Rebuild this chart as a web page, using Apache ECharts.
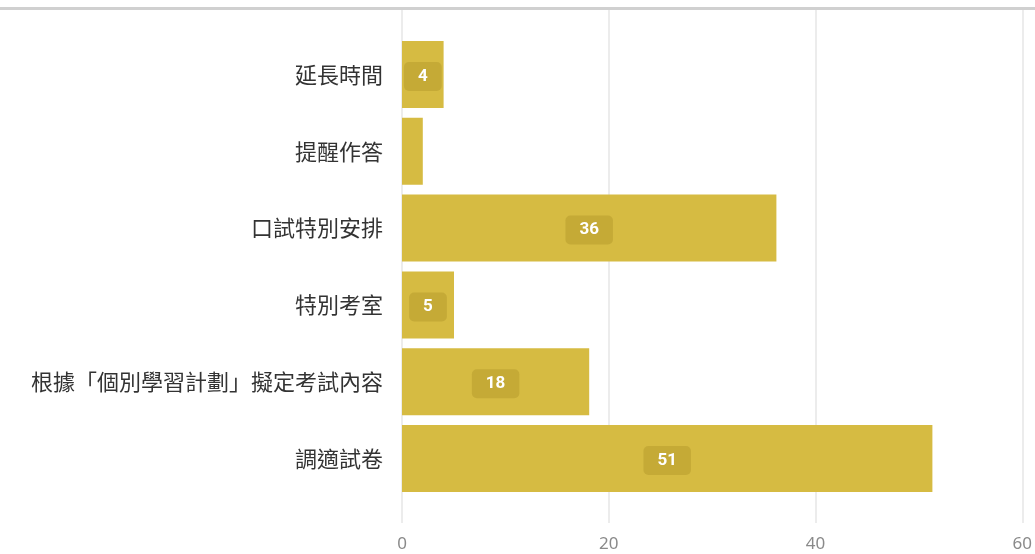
<!DOCTYPE html>
<html><head><meta charset="utf-8">
<script src="https://cdn.jsdelivr.net/npm/echarts@6/dist/echarts.min.js"></script>
<style>html,body{margin:0;padding:0;background:#fff}#c{width:1035px;height:554px}</style>
</head><body><div id="c"></div>
<script>
const categories = ['延長時間','提醒作答','口試特別安排','特別考室','根據「個別學習計劃」擬定考試內容','調適試卷'];
const values = [4, 2, 36, 5, 18, 51];
const xTicks = [0, 20, 40, 60];

const chart = echarts.init(document.getElementById('c'));
chart.setOption({
  animation: false,
  graphic: [{type:'rect', shape:{x:0,y:7,width:1035,height:3}, style:{fill:'#d0d0d0'}, z:10}],
  grid: [
    {left: 402, right: 9, top: 36, bottom: 57},
    {left: 402, right: 9, top: 10, bottom: 31}
  ],
  xAxis: [
    {gridIndex:0, type:'value', min:xTicks[0], max:xTicks[xTicks.length-1], interval:20,
     axisLabel:{show:false}, splitLine:{show:false}, axisLine:{show:false}, axisTick:{show:false}},
    {gridIndex:1, type:'value', min:xTicks[0], max:xTicks[xTicks.length-1], interval:20,
     axisLabel:{color:'#8a8a8a', fontSize:17, margin:13, fontFamily:'Noto Sans'},
     splitLine:{show:true, lineStyle:{color:'#e6e6e6', width:1.5}},
     axisLine:{show:false}, axisTick:{show:false}}
  ],
  yAxis: [
    {gridIndex:0, type:'category', data:categories, inverse:true,
     axisLabel:{color:'#333', fontSize:22, margin:19, fontFamily:'Noto Sans CJK TC'},
     axisLine:{show:false}, axisTick:{show:false}},
    {gridIndex:1, type:'value', show:false}
  ],
  series: [{
    type:'bar', xAxisIndex:0, yAxisIndex:0, barCategoryGap:'12.8%',
    data: values.map(v => ({value:v, label:{show: v > 2}})),
    itemStyle:{color:'#d6bb42'},
    label:{position:'inside', color:'#fff', fontSize:17, fontWeight:'bold', fontFamily:'Roboto',
      backgroundColor:'rgba(110,90,0,0.17)', borderRadius:5, padding:[6,14], offset:[0,2]}
  }]
});
</script></body></html>
